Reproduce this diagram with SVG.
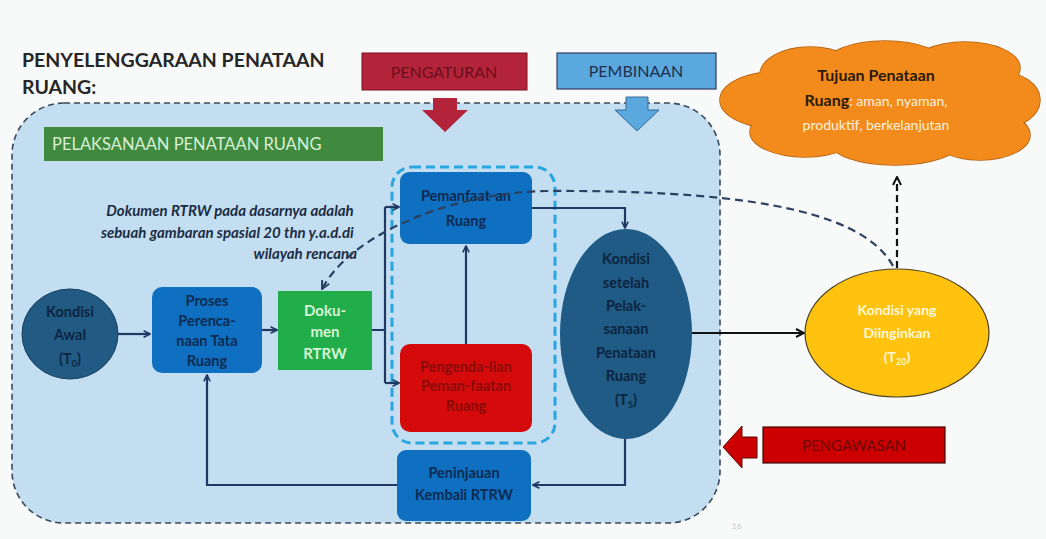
<svg xmlns="http://www.w3.org/2000/svg" width="1046" height="539" viewBox="0 0 1046 539">
<style>
.t{font-family:Lato,"Open Sans","Liberation Sans",sans-serif;font-weight:bold;text-anchor:middle}
.ln{fill:none;stroke:#1f3864;stroke-width:2.2}
.box{fill:#0f6fc0}
</style>
<defs>
<marker id="ah" viewBox="0 0 10 10" refX="9" refY="5" markerWidth="8" markerHeight="8" orient="auto" markerUnits="userSpaceOnUse">
<path d="M1,1 L9,5 L1,9" fill="none" stroke="#1f3864" stroke-width="2"/>
</marker>
<marker id="ahk" viewBox="0 0 10 10" refX="9" refY="5" markerWidth="10" markerHeight="10" orient="auto" markerUnits="userSpaceOnUse">
<path d="M1,1 L9,5 L1,9" fill="none" stroke="#111" stroke-width="2"/>
</marker>
<marker id="ahd" viewBox="0 0 10 10" refX="9" refY="5" markerWidth="10" markerHeight="10" orient="auto" markerUnits="userSpaceOnUse">
<path d="M1,1 L9,5 L1,9" fill="none" stroke="#2a4060" stroke-width="2"/>
</marker>
</defs>
<rect width="1046" height="539" fill="#f8f9f9"/>

<g id="title">
<text x="22" y="67" font-family="Lato,'Open Sans','Liberation Sans',sans-serif" font-weight="bold" font-size="19.5" fill="#262626">PENYELENGGARAAN PENATAAN</text>
<text x="22" y="94" font-family="Lato,'Open Sans','Liberation Sans',sans-serif" font-weight="bold" font-size="19.5" fill="#262626">RUANG:</text>
</g>

<g id="container">
<rect x="12" y="103" width="708" height="420" rx="52" fill="#c3def1" stroke="#3a4a5a" stroke-width="1.6" stroke-dasharray="6,4"/>
</g>

<g id="label-pelaksanaan">
<rect x="44" y="127" width="339" height="34" fill="#3f8a3e"/>
<text x="52" y="150" font-family="Lato,'Open Sans','Liberation Sans',sans-serif" font-size="16.5" fill="#d9efd5">PELAKSANAAN PENATAAN RUANG</text>
</g>

<g id="pengaturan">
<rect x="362" y="53" width="165" height="37" fill="#b3233a" stroke="#7a1020" stroke-width="1"/>
<text x="444" y="78" class="t" font-size="16" fill="#6b0f1c" style="font-weight:normal">PENGATURAN</text>
<path d="M433,98 L457,98 L457,110 L468,110 L445,132 L422,110 L433,110 Z" fill="#b3233a"/>
</g>

<g id="pembinaan">
<rect x="557" y="53" width="159" height="36" fill="#5aa8de" stroke="#2f3f60" stroke-width="1.2"/>
<text x="636" y="77" class="t" font-size="16" fill="#1f2f50" style="font-weight:normal">PEMBINAAN</text>
<path d="M626,97 L648,97 L648,110 L659,110 L637,131 L615,110 L626,110 Z" fill="#5aa8de" stroke="#3a6a9a" stroke-width="1"/>
</g>

<g id="tujuan">
<g fill="#f38b1c" stroke="#b06010" stroke-width="1.5">
<ellipse cx="775" cy="100" rx="55" ry="28"/>
<ellipse cx="810" cy="75" rx="50" ry="28"/>
<ellipse cx="885" cy="65" rx="60" ry="24"/>
<ellipse cx="965" cy="68" rx="55" ry="26"/>
<ellipse cx="1000" cy="100" rx="40" ry="28"/>
<ellipse cx="980" cy="135" rx="50" ry="25"/>
<ellipse cx="895" cy="142" rx="65" ry="23"/>
<ellipse cx="805" cy="132" rx="55" ry="25"/>
</g>
<g fill="#f38b1c">
<ellipse cx="775" cy="100" rx="55" ry="28"/>
<ellipse cx="810" cy="75" rx="50" ry="28"/>
<ellipse cx="885" cy="65" rx="60" ry="24"/>
<ellipse cx="965" cy="68" rx="55" ry="26"/>
<ellipse cx="1000" cy="100" rx="40" ry="28"/>
<ellipse cx="980" cy="135" rx="50" ry="25"/>
<ellipse cx="895" cy="142" rx="65" ry="23"/>
<ellipse cx="805" cy="132" rx="55" ry="25"/>
<ellipse cx="885" cy="103" rx="120" ry="42"/>
</g>
<text x="876" y="81" class="t" font-size="16" fill="#2a1a05">Tujuan Penataan</text>
<text x="876" y="106" class="t" font-size="15" fill="#2a1a05"><tspan font-size="16">Ruang</tspan><tspan style="font-weight:normal" font-size="14" fill="#fff2dd">: aman, nyaman,</tspan></text>
<text x="876" y="130" class="t" font-size="14" fill="#fff2dd" style="font-weight:normal">produktif, berkelanjutan</text>
</g>

<g id="note">
<text font-family="Lato,'Open Sans','Liberation Sans',sans-serif" font-weight="bold" font-style="italic" font-size="15" fill="#1c2c44" text-anchor="end">
<tspan x="357" y="216">Dokumen RTRW pada dasarnya adalah</tspan>
<tspan x="357" y="238">sebuah gambaran spasial 20 thn y.a.d.di</tspan>
<tspan x="357" y="259">wilayah rencana</tspan>
</text>
</g>

<g id="group-pemanfaatan-pengendalian">
<rect x="392" y="167" width="163" height="276" rx="20" fill="none" stroke="#29a6df" stroke-width="3" stroke-dasharray="9,5"/>
</g>

<g id="pemanfaatan">
<rect x="400" y="172" width="132" height="72" rx="9" class="box"/>
<text x="466" y="201" class="t" font-size="14.5" fill="#0d2b52">Pemanfaat-an</text>
<text x="466" y="226" class="t" font-size="14.5" fill="#0d2b52">Ruang</text>
</g>

<g id="pengendalian">
<rect x="400" y="344" width="132" height="88" rx="10" fill="#d50b0b"/>
<text x="466" y="372" class="t" font-size="14.5" fill="#8a0a0a">Pengenda-lian</text>
<text x="466" y="391" class="t" font-size="14.5" fill="#8a0a0a">Peman-faatan</text>
<text x="466" y="411" class="t" font-size="14.5" fill="#8a0a0a">Ruang</text>
</g>

<g id="kondisi-awal">
<ellipse cx="70" cy="334" rx="48" ry="45" fill="#215b84" stroke="#173f60" stroke-width="1"/>
<text x="70" y="317" class="t" font-size="14.5" fill="#0d2540">Kondisi</text>
<text x="70" y="340" class="t" font-size="14.5" fill="#0d2540">Awal</text>
<text x="70" y="364" class="t" font-size="14.5" fill="#0d2540">(T<tspan font-size="9" dy="3">0</tspan><tspan dy="-3">)</tspan></text>
</g>

<g id="proses">
<rect x="152" y="287" width="110" height="86" rx="10" class="box"/>
<text x="207" y="306" class="t" font-size="14.5" fill="#0d2b52">Proses</text>
<text x="207" y="326" class="t" font-size="14.5" fill="#0d2b52">Perenca-</text>
<text x="207" y="346" class="t" font-size="14.5" fill="#0d2b52">naan Tata</text>
<text x="207" y="366" class="t" font-size="14.5" fill="#0d2b52">Ruang</text>
</g>

<g id="dokumen">
<rect x="278" y="291" width="94" height="79" fill="#21ad4a"/>
<text x="325" y="316" class="t" font-size="15" fill="#d6f5d6">Doku-</text>
<text x="325" y="337" class="t" font-size="15" fill="#d6f5d6">men</text>
<text x="325" y="359" class="t" font-size="15" fill="#d6f5d6">RTRW</text>
</g>

<g id="kondisi-setelah">
<ellipse cx="626" cy="334" rx="66" ry="105" fill="#1f5b85"/>
<text x="626" y="264" class="t" font-size="14.5" fill="#0d2540">Kondisi</text>
<text x="626" y="288" class="t" font-size="14.5" fill="#0d2540">setelah</text>
<text x="626" y="311" class="t" font-size="14.5" fill="#0d2540">Pelak-</text>
<text x="626" y="334" class="t" font-size="14.5" fill="#0d2540">sanaan</text>
<text x="626" y="358" class="t" font-size="14.5" fill="#0d2540">Penataan</text>
<text x="626" y="381" class="t" font-size="14.5" fill="#0d2540">Ruang</text>
<text x="626" y="405" class="t" font-size="14.5" fill="#0d2540">(T<tspan font-size="9" dy="3">5</tspan><tspan dy="-3">)</tspan></text>
</g>

<g id="peninjauan">
<rect x="397" y="450" width="134" height="71" rx="9" class="box"/>
<text x="464" y="478" class="t" font-size="14.5" fill="#0d2b52">Peninjauan</text>
<text x="464" y="500" class="t" font-size="14.5" fill="#0d2b52">Kembali RTRW</text>
</g>

<g id="kondisi-diinginkan">
<ellipse cx="897" cy="333" rx="92" ry="64" fill="#ffc20e" stroke="#4a4020" stroke-width="1.2"/>
<text x="897" y="315" class="t" font-size="14" fill="#fff8d8">Kondisi yang</text>
<text x="897" y="338" class="t" font-size="14" fill="#fff8d8">Diinginkan</text>
<text x="897" y="362" class="t" font-size="14" fill="#fff8d8">(T<tspan font-size="9" dy="3">20</tspan><tspan dy="-3">)</tspan></text>
</g>

<g id="pengawasan">
<rect x="763" y="427" width="182" height="36" fill="#cc0000" stroke="#3a0a0a" stroke-width="1.2"/>
<text x="854" y="451" class="t" font-size="15" fill="#6e0808" style="font-weight:normal">PENGAWASAN</text>
<path d="M757,437 L742,437 L742,426 L723,447 L742,468 L742,458 L757,458 Z" fill="#cc0000" stroke="#5a0a0a" stroke-width="1"/>
</g>

<g id="connectors">
<line x1="118" y1="334" x2="150" y2="334" class="ln" marker-end="url(#ah)"/>
<line x1="262" y1="330" x2="277" y2="330" class="ln" marker-end="url(#ah)"/>
<path d="M372,330 H385 M385,207 V383" class="ln"/>
<line x1="385" y1="207" x2="399" y2="207" class="ln" marker-end="url(#ah)"/>
<line x1="385" y1="383" x2="399" y2="383" class="ln" marker-end="url(#ah)"/>
<line x1="466" y1="344" x2="466" y2="246" class="ln" marker-end="url(#ah)"/>
<path d="M532,208 H625 V228" class="ln" marker-end="url(#ah)"/>
<path d="M625,439 V485 H533" class="ln" marker-end="url(#ah)"/>
<path d="M397,485 H207 V375" class="ln" marker-end="url(#ah)"/>
<line x1="692" y1="333" x2="804" y2="333" fill="none" stroke="#111" stroke-width="2.2" marker-end="url(#ahk)"/>
<line x1="897" y1="268" x2="897" y2="177" fill="none" stroke="#111" stroke-width="2.2" stroke-dasharray="7,4" marker-end="url(#ahk)"/>
<path d="M893,266 C860,205 720,190 545,191 C450,193 350,235 322,289" fill="none" stroke="#2a4060" stroke-width="2.2" stroke-dasharray="8,5" marker-end="url(#ahd)"/>
</g>

<text x="732" y="529" font-family="Lato,'Liberation Sans',sans-serif" font-size="8" fill="#c8c8c8">16</text>
</svg>
